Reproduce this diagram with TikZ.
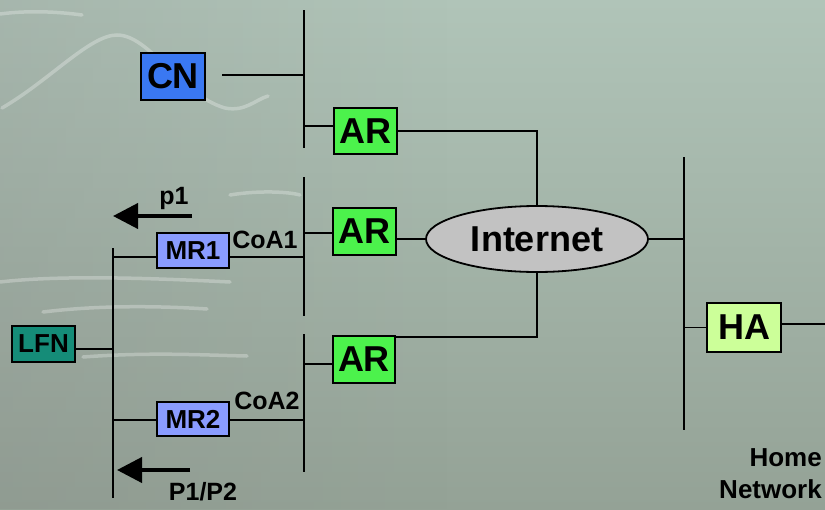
\documentclass[tikz,border=0pt]{standalone}
\usepackage{fontspec}
\setmainfont{Liberation Sans}
\usetikzlibrary{shapes.geometric,arrows.meta,fadings}
\definecolor{bgtop}{HTML}{B0C4B8}
\definecolor{bgbot}{HTML}{94A296}
\definecolor{cnblue}{HTML}{3A78F2}
\definecolor{argreen}{HTML}{4CF24C}
\definecolor{mrblue}{HTML}{8A9CFF}
\definecolor{lfnteal}{HTML}{158C78}
\definecolor{hagreen}{HTML}{CCFF99}
\definecolor{netgray}{HTML}{C2C2C2}
\tikzset{
  box/.style={draw=black,line width=1.8pt,inner sep=0pt,font=\bfseries},
  bigbox/.style={box,font=\fontsize{36}{40}\selectfont\bfseries},
  smallbox/.style={box,font=\fontsize{26}{30}\selectfont\bfseries},
  wire/.style={line width=1.9pt},
  bus/.style={line width=2pt},
  flow/.style={line width=4pt,-{Triangle[length=25pt,width=25pt]}},
  lbl/.style={inner sep=0pt,font=\fontsize{25}{29}\selectfont\bfseries},
  deco/.style={white,opacity=0.28,line width=3.5pt,line cap=round},
}
\begin{document}
\begin{tikzpicture}[x=1pt,y=-1pt]
\shade[top color=bgtop,bottom color=bgbot] (0,0) rectangle (825,509);
\fill[gray,opacity=0.2,path fading=east] (0,0) rectangle (450,509);
\useasboundingbox (0,0) rectangle (825,509);
% faint background texture
\draw[deco] (2,108) .. controls (50,80) and (90,35) .. (117,35) .. controls (150,35) and (180,95) .. (225,108) .. controls (245,112) and (255,100) .. (268,96);
\draw[deco] (0,14) .. controls (30,10) and (60,12) .. (82,15);
\draw[deco] (0,282) .. controls (60,275) and (150,278) .. (230,282);
\draw[deco] (43,312) .. controls (100,305) and (160,306) .. (207,309);
\draw[deco] (83,357) .. controls (150,352) and (200,355) .. (247,356);
\draw[deco] (230,195) .. controls (260,190) and (290,192) .. (300,195);
% buses
\coordinate (b1t) at (304,10);  \coordinate (b1b) at (304,148);
\coordinate (b2t) at (304,177); \coordinate (b2b) at (304,316);
\coordinate (b3t) at (304,334); \coordinate (b3b) at (304,472);
\coordinate (b4t) at (684,157); \coordinate (b4b) at (684,430);
\coordinate (b0t) at (113,248); \coordinate (b0b) at (113,498);
\draw[bus] (b1t) -- (b1b);
\draw[bus] (b2t) -- (b2b);
\draw[bus] (b3t) -- (b3b);
\draw[bus] (b4t) -- (b4b);
\draw[bus] (b0t) -- (b0b);
% nodes
\node[bigbox,fill=cnblue,minimum width=64pt,minimum height=47pt] (CN) at (173,76.5) {CN};
\node[bigbox,fill=argreen,minimum width=63pt,minimum height=46pt] (AR1) at (365.5,131) {AR};
\node[bigbox,fill=argreen,minimum width=63pt,minimum height=47pt] (AR2) at (364.5,231.5) {AR};
\node[bigbox,fill=argreen,minimum width=62pt,minimum height=47pt] (AR3) at (364,359.5) {AR};
\node[smallbox,fill=mrblue,minimum width=72pt,minimum height=35pt] (MR1) at (193,250.5) {MR1};
\node[smallbox,fill=mrblue,minimum width=72pt,minimum height=34pt] (MR2) at (193,419) {MR2};
\node[smallbox,fill=lfnteal,minimum width=63pt,minimum height=36pt] (LFN) at (43.5,344) {LFN};
\node[bigbox,fill=hagreen,minimum width=74pt,minimum height=49pt] (HA) at (744,327.5) {HA};
\node[ellipse,draw=black,line width=1.8pt,fill=netgray,minimum width=222pt,minimum height=66pt,inner sep=0pt,font=\fontsize{36}{40}\selectfont\bfseries] (NET) at (537,239) {Internet};
% labels
\node[lbl] (coa1) at (265,240) {CoA1};
\node[lbl] (coa2) at (267,401) {CoA2};
\node[lbl] (p1) at (174,198) {p1};
\node[lbl] (p12) at (203,492) {P1/P2};
\node[lbl,align=right,anchor=east,font=\fontsize{26}{32}\selectfont\bfseries] (home) at (822,474) {Home\\Network};
% connectors
\coordinate (cnend) at (222,75);
\draw[wire] (cnend) -- (cnend -| b1t);
\draw[wire] ([yshift=5pt]AR1.west) -- ([yshift=5pt]AR1.west -| b1t);
\draw[wire] (AR1.east) -| (NET.north);
\draw[wire] ([yshift=-1.5pt]AR2.west) -- ([yshift=-1.5pt]AR2.west -| b2t);
\draw[wire] (NET.west) -- (NET.west -| AR2.east);
\draw[wire] ([yshift=-4.5pt]AR3.west) -- ([yshift=-4.5pt]AR3.west -| b3t);
\draw[wire] ([yshift=-1.5pt]AR3.north east) -| (NET.south);
\draw[wire] (NET.east) -- (NET.east -| b4t);
\draw[wire] (HA.west) -- (HA.west -| b4t);
\coordinate (haend) at (825,324);
\draw[wire] (HA.east |- haend) -- (haend);
\draw[wire] ([yshift=-6.5pt]MR1.west) -- ([yshift=-6.5pt]MR1.west -| b0t);
\draw[wire] ([yshift=-6.5pt]MR1.east) -- ([yshift=-6.5pt]MR1.east -| b2t);
\draw[wire] ([yshift=-1pt]MR2.west) -- ([yshift=-1pt]MR2.west -| b0t);
\draw[wire] ([yshift=-1pt]MR2.east) -- ([yshift=-1pt]MR2.east -| b3t);
\draw[wire] ([yshift=-5pt]LFN.east) -- ([yshift=-5pt]LFN.east -| b0t);
% arrows
\coordinate (a1s) at (192,216); \coordinate (a1e) at (113,216);
\coordinate (a2s) at (190,470); \coordinate (a2e) at (117,470);
\draw[flow] (a1s) -- (a1e);
\draw[flow] (a2s) -- (a2e);
\end{tikzpicture}
\end{document}
